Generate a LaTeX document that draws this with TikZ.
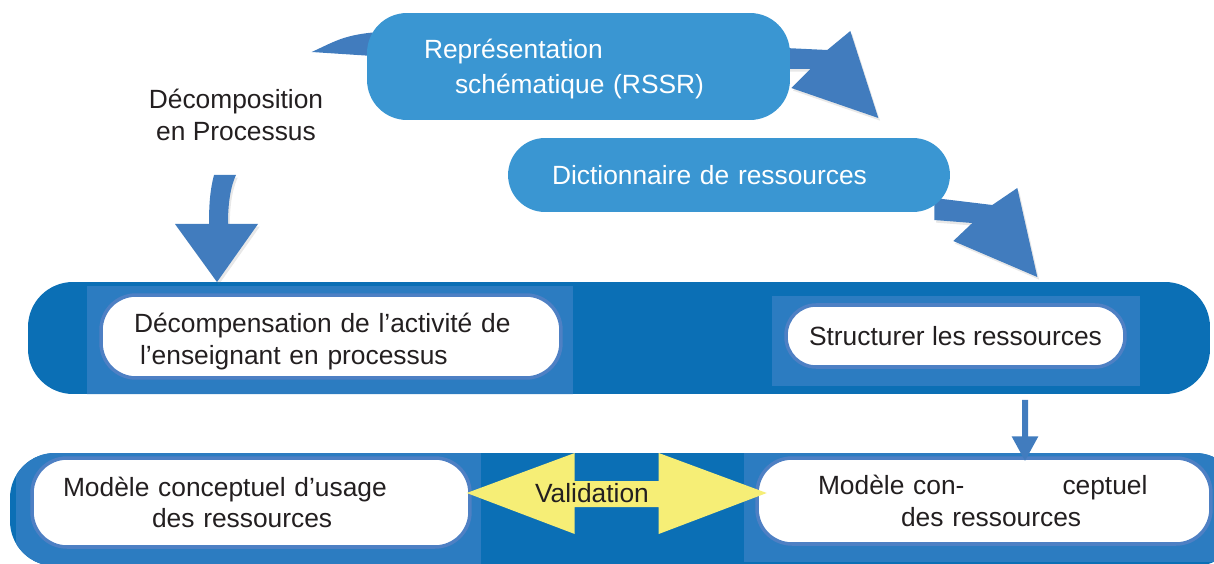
\documentclass[tikz,border=0pt]{standalone}
\usepackage{fontspec}
\setmainfont{Liberation Sans}
\usepackage{tikz}
\usetikzlibrary{calc, backgrounds, arrows.meta, shadows}
\definecolor{band}{RGB}{11, 111, 181}
\definecolor{panel}{RGB}{44, 124, 193}
\definecolor{halo}{RGB}{78, 128, 196}
\definecolor{sky}{RGB}{58, 150, 210}
\definecolor{arrowblue}{RGB}{65, 124, 190}
\definecolor{lemon}{RGB}{246, 238, 118}
\definecolor{ink}{RGB}{35, 31, 32}

\begin{document}
\begin{tikzpicture}[x=0.02cm, y=-0.02cm,
  every node/.style={font=\fontsize{15}{18}\selectfont, text=ink, inner sep=0pt},
  topbox/.style={fill=sky, text=white, rounded corners=0.8cm},
  whitebox/.style={fill=white, draw=halo, line width=2pt, rounded corners=0.7cm},
  blockarrow/.style={fill=arrowblue, drop shadow={opacity=0.18, shadow xshift=1pt, shadow yshift=-1.5pt}},
  downarrow/.style={draw=arrowblue, line width=0.12cm, -{Triangle[length=0.5cm, width=0.5cm]}}]

  \useasboundingbox (0, 0) rectangle (1214, 564);

  % the two bands with their lighter panels
  \begin{scope}
    \clip[rounded corners=0.9cm] (28, 282) rectangle (1210, 394);
    \fill[band] (28, 282) rectangle (1210, 394);
    \fill[panel] (87, 286) rectangle (573, 395);
    \fill[panel] (772, 296) rectangle (1140, 386);
  \end{scope}
  \begin{scope}
    \clip[rounded corners=0.9cm] (10, 453) rectangle (1240, 566);
    \fill[band] (10, 453) rectangle (1240, 566);
    \fill[panel] (16, 453) rectangle (481, 566);
    \fill[panel] (744, 453) rectangle (1214, 562);
  \end{scope}

  \node[topbox, font=\fontsize{15}{19.5}\selectfont, text height=0.49cm, minimum height=2.14cm, text width=8.46cm, align=left] (rssr) at (578.5, 66.5)
    {\hspace*{1.14cm}Représentation\\\hspace*{1.76cm}schématique (RSSR)};
  \node[topbox, rounded corners=0.74cm, minimum height=1.48cm, text width=8.84cm, align=left] (dict) at (729, 175)
    {\hspace*{0.88cm}Dictionnaire de ressources};
  \node[align=center] (decomp) at (236, 115) {Décomposition\\en Processus};

  \node[whitebox, text height=0.6cm, minimum height=1.66cm, text width=9.2cm, align=left] (activite) at (331, 336.5)
    {\hspace*{0.66cm}Décompensation de l’activité de\\\hspace*{0.78cm}l’enseignant en processus};
  \node[whitebox, rounded corners=0.6cm, minimum width=6.78cm, minimum height=1.24cm] (struct) at (955.5, 336)
    {Structurer les ressources};
  \node[whitebox, minimum height=1.78cm, text width=8.76cm, align=left] (usage) at (251, 502.5)
    {\hspace*{0.62cm}Modèle conceptuel d’usage\\\hspace*{2.4cm}des ressources};
  \node[whitebox, minimum height=1.72cm, text width=9.08cm, align=left] (concept) at (984, 501)
    {\hspace*{1.22cm}Modèle con-\hspace*{1.96cm}ceptuel\\\hspace*{2.88cm}des ressources};

  % arrows behind the top boxes
  \begin{scope}[on background layer]
    \fill[arrowblue] ($(rssr.west)+(6, -34)$) .. controls +(-30, 3) and +(22, -10) .. ++(-61, 19.5)
      -- ++(61, 4) -- cycle;
    \fill[blockarrow] ($(rssr.east)+(-5, -18.5)$) -- ++(42, 2) -- ++(23, -19) -- ++(28, 87)
      -- ++(-87, -30) -- ++(19, -19) -- ++(-25, 0) -- cycle;
    \fill[blockarrow] ($(dict.east)+(-16, 23)$) -- ++(58, 7) -- ++(25, -17) -- ++(20, 89)
      -- ++(-84, -36) -- ++(19, -18) -- ++(-38, -3) -- cycle;
  \end{scope}

  \fill[blockarrow] ($(decomp.center)+(0, 60)$) .. controls +(-7, 15) and +(0, -14) .. ++(-8, 49)
    -- ++(30, 0) -- ++(-41, 58) -- ++(-42, -58) -- ++(34, 0)
    .. controls +(0, -19) and +(-4, 15) .. ++(5, -49) -- cycle;

  \draw[downarrow] ($(struct.south)+(69.5, 31)$) -- ($(concept.north)+(41, 5)$);

  % validation, both ways
  \fill[lemon] ($(usage.east)+(-5, -9.5)$) -- ++(108, -40) -- ++(0, 28) -- ++(84, 0) -- ++(0, -28)
    -- ++(108, 40) -- ++(-108, 41) -- ++(0, -27) -- ++(-84, 0) -- ++(0, 27) -- cycle;
  \node (valid) at (592, 493) {Validation};

\end{tikzpicture}
\end{document}
